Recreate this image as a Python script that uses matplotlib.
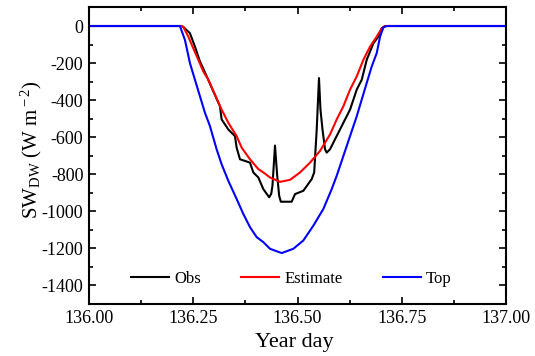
import matplotlib
matplotlib.use("Agg")
import matplotlib.pyplot as plt
from matplotlib.ticker import MultipleLocator

plt.rcParams['font.family'] = ['Liberation Serif', 'DejaVu Serif']
plt.rcParams['mathtext.fontset'] = 'custom'
plt.rcParams['mathtext.rm'] = 'Liberation Serif'
plt.rcParams['mathtext.it'] = 'Liberation Serif'
plt.rcParams['axes.unicode_minus'] = False

# ---- data ----
t_obs = [136.00, 136.222, 136.226, 136.242, 136.254, 136.266, 136.286, 136.298,
         136.314, 136.318, 136.334, 136.350, 136.354, 136.362, 136.386, 136.394,
         136.406, 136.418, 136.432, 136.437, 136.440, 136.446, 136.451, 136.456,
         136.460, 136.486, 136.494, 136.514, 136.534, 136.540, 136.546, 136.5515,
         136.555, 136.560, 136.566, 136.570, 136.578, 136.590, 136.602, 136.610,
         136.626, 136.642, 136.654, 136.666, 136.682, 136.694, 136.702, 136.710,
         137.00]
obs = [0, 0, -5, -39, -111, -191, -290, -352,
       -433, -504, -558, -594, -656, -719, -737, -790,
       -817, -880, -924, -905, -860, -645, -800, -916,
       -948, -948, -907, -889, -826, -790, -560, -281,
       -450, -560, -665, -683, -665, -611, -558, -522,
       -451, -343, -290, -182, -93, -57, -12, 0,
       0]

t_est = [136.00, 136.222, 136.226, 136.238, 136.250, 136.262, 136.274, 136.286,
         136.302, 136.318, 136.334, 136.354, 136.366, 136.386, 136.406, 136.418,
         136.434, 136.458, 136.482, 136.506, 136.530, 136.554, 136.578, 136.594,
         136.610, 136.626, 136.642, 136.658, 136.674, 136.690, 136.702, 136.710,
         137.00]
est = [0, 0, -4, -57, -120, -182, -245, -290,
       -370, -451, -522, -594, -656, -719, -772, -790,
       -817, -841, -830, -790, -737, -674, -585, -504,
       -433, -343, -272, -182, -111, -57, -12, 0,
       0]

t_top = [136.00, 136.218, 136.230, 136.242, 136.254, 136.266, 136.278, 136.290,
         136.306, 136.318, 136.334, 136.354, 136.370, 136.386, 136.402, 136.418,
         136.434, 136.462, 136.490, 136.514, 136.538, 136.562, 136.582, 136.594,
         136.610, 136.626, 136.642, 136.654, 136.666, 136.678, 136.690, 136.698,
         136.706, 136.714, 137.00]
top = [0, 0, -75, -200, -290, -379, -468, -540,
       -665, -746, -835, -933, -1014, -1085, -1139, -1166,
       -1202, -1225, -1202, -1157, -1077, -987, -880, -808,
       -701, -594, -487, -397, -307, -218, -146, -57,
       -7, 0, 0]

x_ticks = [136.00, 136.25, 136.50, 136.75, 137.00]
x_tick_labels = ['136.00', '136.25', '136.50', '136.75', '137.00']
y_ticks = [0, -200, -400, -600, -800, -1000, -1200, -1400]

fig = plt.figure(figsize=(5.35, 3.56), dpi=100)
ax = fig.add_axes([0.1664, 0.146, 0.7794, 0.833])

ax.plot(t_obs, obs, color='black', lw=1.5, label='Obs')
ax.plot(t_est, est, color='#ff0000', lw=1.5, label='Estimate')
ax.plot(t_top, top, color='#0000ff', lw=1.5, label='Top')

ax.set_xlim(136.0, 137.0)
ax.set_ylim(-1500, 100)
ax.set_xticks(x_ticks)
ax.set_xticklabels(x_tick_labels)
ax.set_yticks(y_ticks)
ax.xaxis.set_minor_locator(MultipleLocator(0.125))
ax.yaxis.set_minor_locator(MultipleLocator(100))
ax.tick_params(which='both', direction='in', top=True, right=True,
               width=1.2, labelsize=13, colors='black')
ax.tick_params(which='major', length=5, pad=4)
ax.tick_params(which='minor', length=3)
for s in ax.spines.values():
    s.set_linewidth(1.5)

ax.set_ylabel(r'SW$_{\rm DW}$ (W m$^{\rm -2}$)', fontsize=15)
ax.yaxis.set_label_coords(-0.108, 0.52)
ax.set_xlabel('Year day', fontsize=16)
ax.xaxis.set_label_coords(0.492, -0.098)

ax.legend(loc='center', bbox_to_anchor=(0.485, 0.084), ncol=3, frameon=False,
          fontsize=12, handlelength=2.3, handletextpad=0.3, columnspacing=2.4,
          borderaxespad=0)

fig.savefig('out.png', dpi=100)
